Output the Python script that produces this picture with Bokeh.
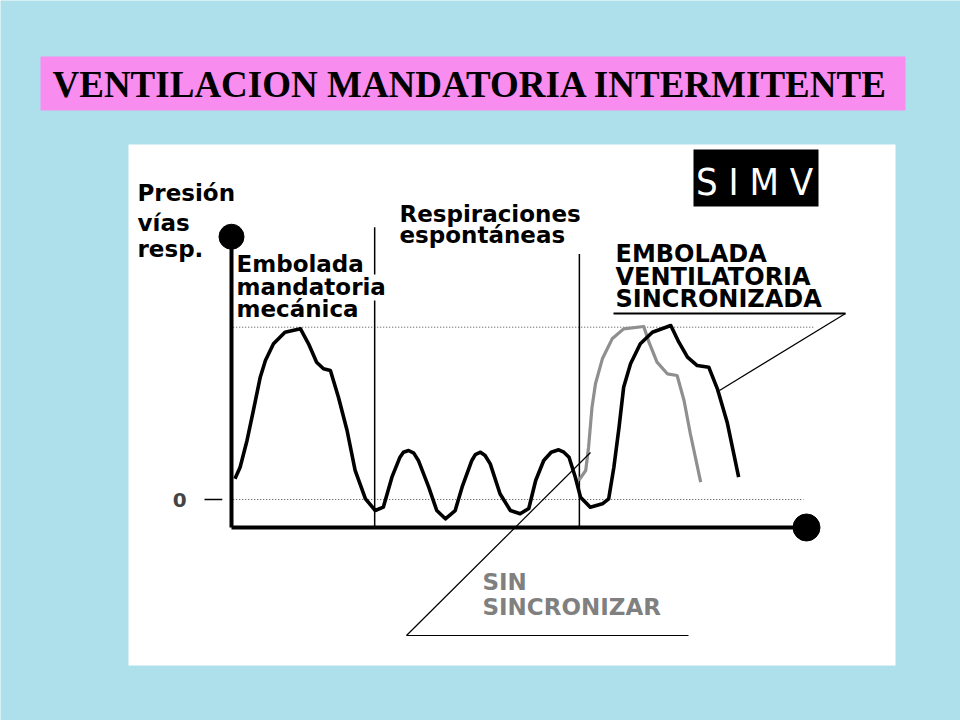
from bokeh.plotting import figure
from bokeh.models import Range1d, Label
from bokeh.embed import file_html
from bokeh.resources import INLINE

# ---------------- data: airway pressure (cmH2O) vs time (s) ----------------
# black trace: mandatory breath, spontaneous breaths, synchronized breath
mech_t = [0.06, 0.15, 0.27, 0.38, 0.50, 0.59, 0.73, 0.93, 1.20, 1.34,
          1.48, 1.60, 1.72, 1.86, 2.01, 2.15, 2.33, 2.50, 2.64, 2.79,
          2.93, 2.99, 3.08, 3.17, 3.25, 3.43, 3.57, 3.72, 3.89, 4.01,
          4.18, 4.24, 4.33, 4.41, 4.50, 4.67, 4.85, 5.02, 5.17, 5.29,
          5.43, 5.56, 5.69, 5.78, 5.87, 5.98, 6.07, 6.24, 6.45, 6.56,
          6.65, 6.74, 6.82, 6.94, 7.11, 7.32, 7.64, 7.78, 7.93, 8.10,
          8.30, 8.45, 8.62, 8.82]
mech_p = [2.40, 3.75, 6.85, 10.33, 14.20, 16.13, 18.07, 19.42, 19.81, 18.07,
          15.94, 15.17, 14.97, 11.87, 8.01, 3.37, 0.08, -1.28, -0.89, 2.59,
          4.91, 5.49, 5.69, 5.38, 4.53, 1.43, -1.28, -2.24, -1.28, 1.43,
          4.53, 5.22, 5.49, 5.11, 4.14, 0.66, -1.28, -1.66, -1.04, 2.21,
          4.53, 5.49, 5.77, 5.49, 4.91, 2.59, 0.27, -0.89, -0.50, 0.08,
          3.75, 8.39, 13.03, 15.75, 18.07, 19.42, 20.20, 18.26, 16.52, 15.55,
          15.36, 12.85, 8.97, 2.59]
# grey trace: unsynchronized mandatory breath
async_t = [6.04, 6.16, 6.21, 6.27, 6.33, 6.45, 6.62, 6.82, 7.17, 7.26,
           7.40, 7.58, 7.75, 7.87, 7.98, 8.16]
async_p = [2.21, 3.37, 6.07, 10.71, 13.43, 16.33, 18.65, 19.81, 20.08, 18.26,
           15.94, 14.59, 14.39, 11.49, 7.63, 2.01]
divider_t = [2.49, 6.05]          # start of spontaneous breaths / SIMV window
ref_levels = [0, 20]              # dotted reference pressures
ytick_vals = [0]
ytick_labels = ["0"]

# ---------------- layout / style constants ----------------
W, H = 960, 720
BG = "#ade0ea"
T0_PX, PX_PER_S = 231.0, 57.5     # page x of t=0, pixels per second
P0_PX, PX_PER_P = 499.0, 8.615    # page y of p=0, pixels per cmH2O
AX_P_LO, AX_P_HI, T_END = -3.25, 30.5, 10.0
DIV_TOP = [31.6, 28.5]
REF_END = [9.95, 10.12]
LBL_FONT = "DejaVu Sans"

p = figure(width=W, height=H, x_range=Range1d(0, W), y_range=Range1d(H, 0),
           output_backend="svg", toolbar_location=None, min_border=0,
           x_axis_location=None, y_axis_location=None,
           background_fill_color=BG, border_fill_color=BG, outline_line_color=None)
p.xgrid.grid_line_color = None
p.ygrid.grid_line_color = None
p.extra_x_ranges = {"t": Range1d((0 - T0_PX) / PX_PER_S, (W - T0_PX) / PX_PER_S)}
p.extra_y_ranges = {"pr": Range1d((P0_PX - H) / PX_PER_P, (P0_PX - 0) / PX_PER_P)}
C = dict(x_range_name="t", y_range_name="pr")


def lab(x, y_base, s, size=23, color="black", font=LBL_FONT, style="bold",
        align="left", bg=None):
    # y_base is the text baseline; anchor on the middle of the text
    p.add_layout(Label(x=x, y=y_base - 0.35 * size, text=s, text_font=font,
                       text_font_style=style, text_font_size=f"{size}px",
                       text_color=color, text_align=align, text_baseline="middle",
                       background_fill_color=bg))


# slide decorations
p.quad(left=40, right=905, top=56, bottom=110, fill_color="#f98cef", line_color=None)
p.quad(left=128, right=895, top=144, bottom=665, fill_color="white", line_color=None)
p.quad(left=693, right=818, top=149, bottom=206, fill_color="black", line_color=None)
lab(52, 97, "VENTILACION MANDATORIA INTERMITENTE", size=37, font="Liberation Serif")
lab(754, 195, "S I M V", size=38, color="white", font="DejaVu Sans Condensed",
    style="normal", align="center")

# reference lines, tick, dividers
p.segment(x0=[0.03, 0.03], x1=REF_END, y0=ref_levels, y1=ref_levels,
          line_color="#444444", line_width=1, line_dash="1 2", **C)
p.segment(x0=[-0.47], x1=[-0.16], y0=ytick_vals, y1=ytick_vals,
          line_color="black", line_width=1.5, **C)
p.segment(x0=divider_t, x1=divider_t, y0=[AX_P_LO] * 2, y1=DIV_TOP,
          line_color="black", line_width=1.5, **C)

# traces
p.line(async_t, async_p, line_color="#8f8f8f", line_width=3.2, line_join="round", **C)
p.line(mech_t, mech_p, line_color="black", line_width=3.6, line_join="round", **C)

# axes with ball ends
p.line([0, 0], [AX_P_LO, AX_P_HI], line_color="black", line_width=4, **C)
p.line([0, T_END], [AX_P_LO, AX_P_LO], line_color="black", line_width=4, **C)
p.scatter([0], [AX_P_HI], size=25, color="black", **C)
p.scatter([T_END], [AX_P_LO], size=27, color="black", **C)
for v, s in zip(ytick_vals, ytick_labels):
    p.add_layout(Label(x=-0.9, y=v, text=s, text_font=LBL_FONT, text_font_style="bold",
                       text_font_size="20px", text_align="center", text_baseline="middle", **C))

# pointer lines
p.segment(x0=[613], y0=[313], x1=[845], y1=[313], line_color="black", line_width=2.2)
p.segment(x0=[845, 406, 406], y0=[313, 635, 635], x1=[719, 590, 688], y1=[390, 452, 635],
          line_color="black", line_width=1.2)

# text labels
for s, y in zip(["Presión", "vías", "resp."], [201, 231, 257]):
    lab(137, y, s)
for s, y in zip(["Embolada", "mandatoria", "mecánica"], [272, 295, 317]):
    lab(236, y, s, bg="white")
for s, y in zip(["Respiraciones", "espontáneas"], [222, 243]):
    lab(399, y, s)
for s, y in zip(["EMBOLADA", "VENTILATORIA", "SINCRONIZADA"], [262, 285, 307]):
    lab(615, y, s, size=24)
for s, y in zip(["SIN", "SINCRONIZAR"], [590, 615]):
    lab(482, y, s, size=23, color="#808080")

open("out.html", "w").write(file_html(p, INLINE))
